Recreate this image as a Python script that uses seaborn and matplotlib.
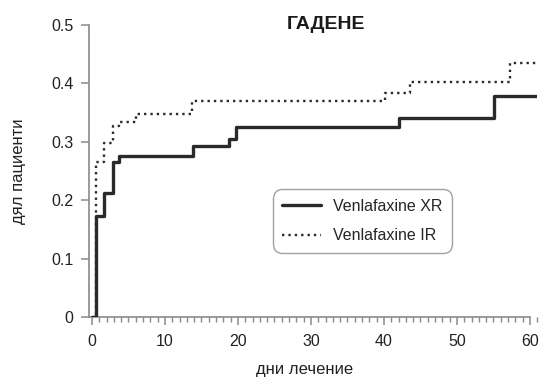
import matplotlib
matplotlib.use('Agg')
import matplotlib.pyplot as plt
import seaborn as sns
from matplotlib.ticker import MultipleLocator

# Cumulative share of patients with nausea
xr_days = [0, 0.5, 1.7, 2.85, 3.75, 13.8, 18.8, 19.7, 42.1, 55.1, 61]
xr_vals = [0, 0.173, 0.213, 0.266, 0.276, 0.293, 0.304, 0.326, 0.340, 0.379, 0.379]

ir_days = [0, 0.6, 1.7, 2.85, 3.75, 6.1, 13.65, 40.1, 43.5, 57.2, 61]
ir_vals = [0, 0.266, 0.298, 0.327, 0.334, 0.347, 0.370, 0.384, 0.403, 0.435, 0.435]

x_ticks = [0, 10, 20, 30, 40, 50, 60]
y_ticks = [0, 0.1, 0.2, 0.3, 0.4, 0.5]
y_tick_labels = ['0', '0.1', '0.2', '0.3', '0.4', '0.5']

sns.set_style('white')
plt.rcParams['font.family'] = ['Liberation Sans', 'DejaVu Sans']

fig, ax = plt.subplots(figsize=(5.46, 3.78), dpi=100)
fig.subplots_adjust(left=0.163, right=0.984, top=0.934, bottom=0.161)

sns.lineplot(x=ir_days, y=ir_vals, ax=ax, drawstyle='steps-post', estimator=None, sort=False,
             color='#2a2a2a', linewidth=1.7, linestyle=(0, (1, 1.7)), label='Venlafaxine IR', zorder=2)
sns.lineplot(x=xr_days, y=xr_vals, ax=ax, drawstyle='steps-post', estimator=None, sort=False,
             color='#2a2a2a', linewidth=2.4, label='Venlafaxine XR', zorder=3)

ax.set_xlim(-0.4, 61)
ax.set_ylim(0, 0.5)
ax.spines['bottom'].set_bounds(-0.4, 60)
ax.spines['left'].set_bounds(0, 0.5)
for side in ['top', 'right']:
    ax.spines[side].set_visible(False)
for side in ['left', 'bottom']:
    ax.spines[side].set_color('#8a8a8a')
    ax.spines[side].set_linewidth(1.2)

ax.set_xticks(x_ticks)
ax.xaxis.set_minor_locator(MultipleLocator(1))
ax.set_yticks(y_ticks)
ax.set_yticklabels(y_tick_labels)
ax.tick_params(axis='both', which='major', direction='out', length=6, width=1.1, color='#8a8a8a',
               labelsize=11.5, labelcolor='#222222', bottom=True, left=True)
ax.tick_params(axis='x', which='minor', direction='out', length=3.5, width=1, color='#8a8a8a', bottom=True)
ax.tick_params(axis='y', pad=5)
ax.tick_params(axis='x', pad=6)

ax.set_xlabel('дни лечение', fontsize=12, color='#222222', labelpad=10)
ax.xaxis.set_label_coords(0.48, -0.155)
ax.set_ylabel('дял пациенти', fontsize=12, color='#222222', labelpad=18)
ax.text(32.1, 0.5, 'ГАДЕНЕ', fontsize=14, fontweight='bold', ha='center', va='center', color='#1a1a1a')

handles, labels = ax.get_legend_handles_labels()
leg = ax.legend(handles[::-1], labels[::-1], loc='upper left', bbox_to_anchor=(0.41, 0.438),
                borderaxespad=0, fontsize=11.5, handlelength=2.4, handletextpad=0.8,
                frameon=True, fancybox=True, borderpad=0.6, labelspacing=0.9, edgecolor='#8a8a8a')
leg.get_frame().set_linewidth(1.0)
leg.get_frame().set_boxstyle('round', pad=0, rounding_size=0.6)

fig.savefig('out.png', dpi=100)
